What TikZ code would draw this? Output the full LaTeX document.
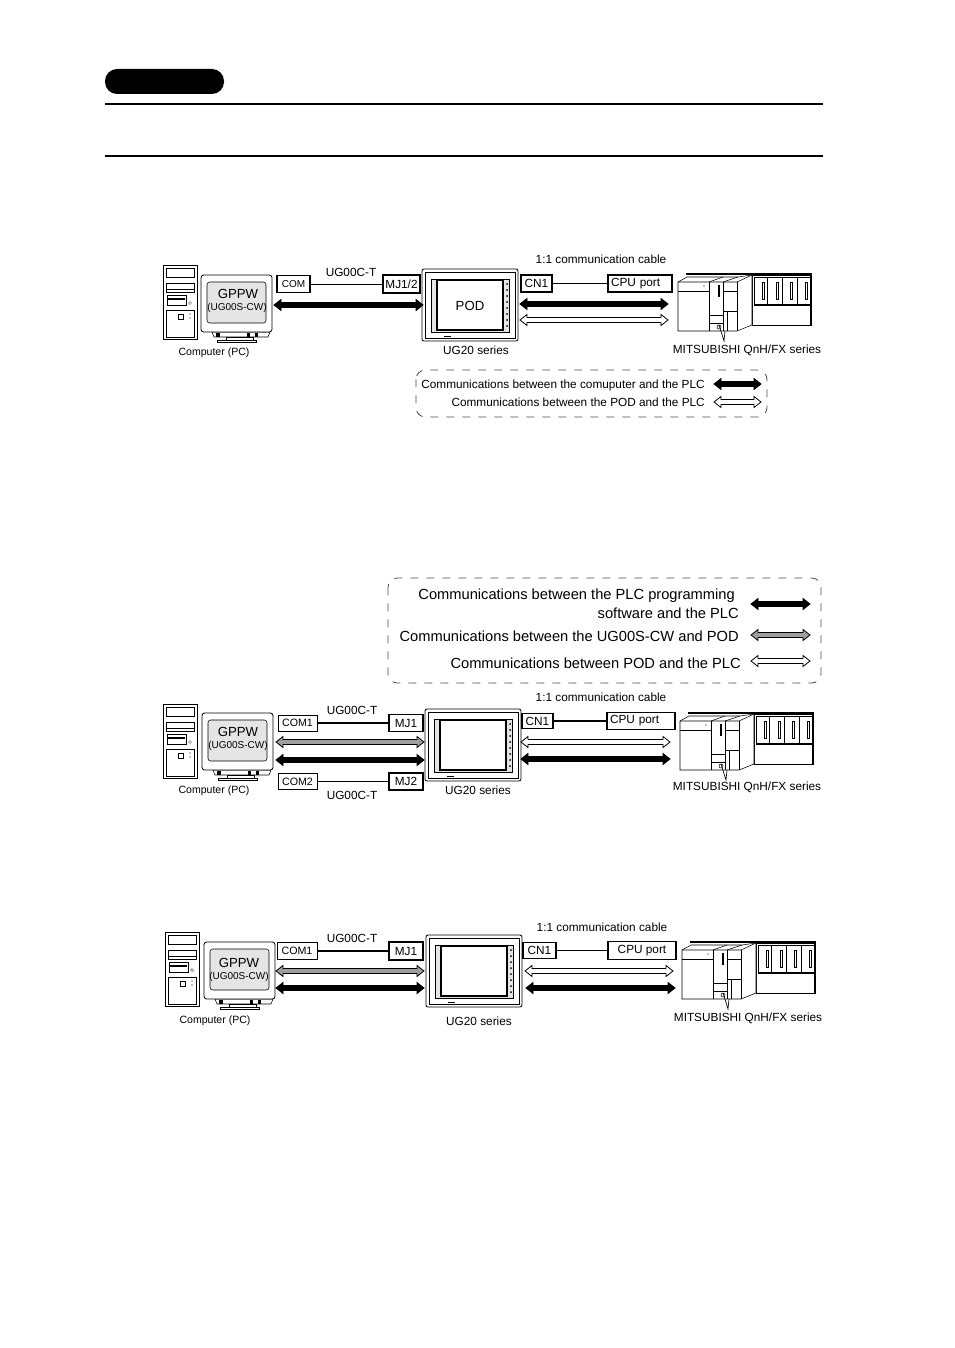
\documentclass[tikz,border=0pt]{standalone}
\usepackage{fontspec}
\setmainfont{Liberation Sans}
\usetikzlibrary{calc}

\newcommand{\commarrow}[3]{\draw[commline, fill=#1] (#2) -- ++(7,-5.5) -- ++(0,3) -- ($(#3)+(-7,-2.5)$) -- ++(0,-3) -- (#3) -- ++(-7,5.5) -- ++(0,-3) -- ($(#2)+(7,2.5)$) -- ++(0,3) -- cycle;}

\definecolor{screengray}{gray}{0.9}
\definecolor{arrowgray}{gray}{0.62}
\definecolor{dashgray}{gray}{0.3}

\def\px{0.75pt}

\tikzset{
   lab/.style={font=\fontsize{8.85}{10}\selectfont, inner sep=0pt},
   pclab/.style={font=\fontsize{7.9}{9}\selectfont, inner sep=0pt},
   swlab/.style={font=\fontsize{7.5}{9}\selectfont, inner sep=0pt},
   gppwlab/.style={font=\fontsize{9.9}{12}\selectfont, inner sep=0pt},
   biglab/.style={font=\fontsize{11}{13}\selectfont, inner sep=0pt, anchor=east},
   midlab/.style={font=\fontsize{8.85}{10}\selectfont, inner sep=0pt, anchor=east},
   port/.style={draw, line width=0.6pt, fill=white, font=\fontsize{8.85}{10}\selectfont, inner sep=0pt},
   portthick/.style={port, line width=1.2pt},
   cable/.style={line width=0.9pt},
   commline/.style={line width=0.6pt, line join=miter},
   legendbox/.style={draw=dashgray, line width=0.6pt, rounded corners=7pt, dash pattern=on 6pt off 6pt},
   pics/pctower/.style={code={
      \draw[line width=0.7pt, fill=white] (0,0) rectangle (34,74);
      \draw[line width=0.25pt] (3,3) rectangle (31,12);
      \draw[line width=0.25pt] (3,18) -- (31,18);
      \draw[line width=0.5pt] (3,18) rectangle (31,27);
      \draw[line width=0.25pt] (3,24) -- (31,24);
      \draw[line width=0.4pt] (4,30) rectangle (23,40);
      \fill (5,33) rectangle (22,34.5);
      \draw[line width=0.25pt] (27,38) circle (1.5);
      \draw[line width=0.25pt] (3,45) -- (31,45);
      \draw[line width=0.25pt] (3,45) -- (3,72) -- (31,72) -- (31,45);
      \draw[line width=0.4pt] (15,49) rectangle (20,54);
      \fill (27,49) circle (0.7);
      \fill (27,53) circle (0.7);
   }},
   pics/monitor/.style={code={
      \draw[line width=0.4pt, fill=white] (11,57) -- (13,62) -- (67,62) -- (69,57) -- cycle;
      \fill (15,58) rectangle (19,62);
      \fill (46,58) rectangle (49,62);
      \fill (54,58) rectangle (57,62);
      \draw[line width=0.4pt, fill=white] (25,62) rectangle (52,65);
      \draw[line width=0.4pt, fill=white] (16,65) rectangle (55,67);
      \draw[line width=0.6pt, fill=white, rounded corners=2pt] (0,0) rectangle (71,57);
      \draw[line width=0.4pt, fill=screengray, rounded corners=2pt] (6,7) rectangle (65,48);
   }},
   pics/hmipanel/.style={code={
      \draw[line width=0.6pt, fill=white, rounded corners=1.5pt] (0,0) rectangle (96,72);
      \draw[line width=0.5pt] (3,3) rectangle (93,69);
      \draw[line width=0.3pt, fill=screengray] (9,10) rectangle (87,63);
      \draw[line width=0.8pt, fill=white] (15,11) rectangle (81,61);
      \fill (85,15) circle (1);
      \fill (85,21) circle (1);
      \fill (85,27) circle (1);
      \fill (85,33) circle (1);
      \fill (85,39) circle (1);
      \fill (85,45) circle (1);
      \fill (85,51) circle (1);
      \fill (85,57) circle (1);
      \draw[line width=0.4pt] (22,67) -- (29,67);
   }},
   pics/plcrack/.style={code={
      \draw[line width=0.5pt, fill=white] (74,1) rectangle (133,51);
      \draw[line width=1pt] (8,0) -- (134,0);
      \draw[line width=0.8pt] (133,0) -- (133,51);
      \draw[line width=0.5pt] (76,3) rectangle (133,31);
      \draw[line width=1.2pt] (76,31) -- (133,31);
      \draw[line width=0.7pt] (89,3) -- (89,31);
      \draw[line width=0.7pt] (104,3) -- (104,31);
      \draw[line width=0.7pt] (119,3) -- (119,31);
      \draw[line width=0.4pt] (84,8) rectangle (86,25);
      \draw[line width=0.4pt] (98,8) rectangle (100,25);
      \draw[line width=0.4pt] (112,8) rectangle (114,25);
      \draw[line width=0.4pt] (127,8) rectangle (129,25);
      \draw[line width=0.4pt, fill=white] (0,8) -- (9,3) -- (45,3) -- (60,3) -- (74,1) -- (74,51) -- (59,57) -- (0,57) -- cycle;
      \draw[line width=0.4pt] (0,8) -- (59,8) -- (74,1);
      \draw[line width=0.4pt] (31,8) -- (45,3);
      \draw[line width=0.4pt] (45,8) -- (60,3);
      \draw[line width=0.6pt] (31,8) -- (31,57);
      \draw[line width=0.4pt] (0,17) -- (31,17);
      \fill (26,12) circle (0.6);
      \fill (40,11) rectangle (42,23);
      \draw[line width=0.4pt] (31,41) -- (45,41);
      \draw[line width=0.4pt] (31,49) -- (45,49);
      \draw[line width=0.4pt] (41,53) circle (2);
      \draw[line width=0.5pt] (45,8) -- (45,57);
      \draw[line width=0.4pt] (45,17) -- (59,17);
      \draw[line width=0.4pt] (45,37) -- (59,37);
      \draw[line width=0.6pt] (49,37) -- (49,57);
      \draw[line width=0.5pt] (59,8) -- (59,57);
      \draw[line width=0.5pt] (41,51) -- (46,67) -- (47,57);
   }},
}

\begin{document}
\begin{tikzpicture}[x=0.75pt, y=-0.75pt]
   \useasboundingbox (0,0) rectangle (954,1348);

   \fill[rounded corners=9pt] (105,69) rectangle (224,94);
   \draw[line width=1.5pt] (105,104) -- (823,104);
   \draw[line width=1.5pt] (105,156) -- (823,156);

   % first connection
   \pic (pcA) at (163,265) {pctower};
   \pic (monA) at (201,275) {monitor};
   \pic (hmiA) at (422,269) {hmipanel};
   \pic (plcA) at (678,274) {plcrack};
   \node[gppwlab] (gppwA) at (238,294) {GPPW};
   \node[swlab] (swA) at (237,308) {(UG00S-CW)};
   \node[gppwlab] (podA) at (470,306) {POD};
   \node[pclab] (pcnameA) at (214,353) {Computer (PC)};
   \node[lab] (hminameA) at (476,350) {UG20 series};
   \node[lab] (plcnameA) at (747,350) {MITSUBISHI QnH/FX series};
   \node[portthick, minimum width=33*\px, minimum height=17*\px, font=\fontsize{7.5}{9}\selectfont] (comA) at (293.5,284) {COM};
   \node[portthick, minimum width=37*\px, minimum height=18*\px] (mjA) at (401.5,284) {MJ1/2};
   \node[portthick, minimum width=31*\px, minimum height=17*\px] (cnA) at (536.5,283.5) {CN1};
   \node[portthick, minimum width=64*\px, minimum height=17*\px, text width=58*\px, align=left] (cpuA) at (640,283.5) {CPU port};
   \node[lab] (cableA) at (351,272) {UG00C-T};
   \node[lab] (oneA) at (601,259) {1:1 communication cable};
   \draw[line width=0.5pt] (comA) -- (mjA);
   \draw[cable] (cnA) -- (cpuA);
   \coordinate (blackAl) at (274,305);
   \coordinate (blackAr) at (423,305);
   \coordinate (blackBl) at (520,304);
   \coordinate (blackBr) at (668,304);
   \coordinate (whiteAl) at (520,320);
   \coordinate (whiteAr) at (668,320);
   \commarrow{black}{blackAl}{blackAr}
   \commarrow{black}{blackBl}{blackBr}
   \commarrow{white}{whiteAl}{whiteAr}

   \draw[legendbox] (416,370) rectangle (767,417);
   \node[midlab] (legA) at (705,385) {Communications between the comuputer and the PLC};
   \node[midlab] (legB) at (705,402) {Communications between the POD and the PLC};
   \coordinate (legAl) at (714,384);
   \coordinate (legAr) at (761,384);
   \coordinate (legBl) at (714,402);
   \coordinate (legBr) at (761,402);
   \commarrow{black}{legAl}{legAr}
   \commarrow{white}{legBl}{legBr}

   % legend of the second connection
   \draw[legendbox] (388,578) rectangle (821,683);
   \node[biglab] (legC) at (735,596) {Communications between the PLC programming};
   \node[biglab] (legD) at (739,613) {software and the PLC};
   \node[biglab] (legE) at (739,636) {Communications between the UG00S-CW and POD};
   \node[biglab] (legF) at (741,663) {Communications between POD and the PLC};
   \coordinate (legCl) at (751,604);
   \coordinate (legCr) at (810,604);
   \coordinate (legEl) at (751,635);
   \coordinate (legEr) at (810,635);
   \coordinate (legFl) at (751,661);
   \coordinate (legFr) at (810,661);
   \commarrow{black}{legCl}{legCr}
   \commarrow{arrowgray}{legEl}{legEr}
   \commarrow{white}{legFl}{legFr}

   % second connection
   \pic (pcB) at (163,704) {pctower};
   \pic (monB) at (202,713) {monitor};
   \pic (hmiB) at (425,709) {hmipanel};
   \pic (plcB) at (680,713) {plcrack};
   \node[gppwlab] (gppwB) at (238,732) {GPPW};
   \node[swlab] (swB) at (238,746) {(UG00S-CW)};
   \node[pclab] (pcnameB) at (214,791) {Computer (PC)};
   \node[lab] (hminameB) at (478,790) {UG20 series};
   \node[lab] (plcnameB) at (747,787) {MITSUBISHI QnH/FX series};
   \node[port, minimum width=39*\px, minimum height=16*\px, font=\fontsize{8}{10}\selectfont] (comB) at (297.5,723) {COM1};
   \node[portthick, minimum width=34*\px, minimum height=17*\px] (mjB) at (406,723) {MJ1};
   \node[port, minimum width=39*\px, minimum height=16*\px, font=\fontsize{8}{10}\selectfont] (comC) at (297.5,781.5) {COM2};
   \node[portthick, minimum width=34*\px, minimum height=17*\px] (mjC) at (406,781.5) {MJ2};
   \node[portthick, minimum width=31*\px, minimum height=15*\px] (cnB) at (537.5,721) {CN1};
   \node[portthick, minimum width=68*\px, minimum height=17*\px, text width=62*\px, align=left] (cpuB) at (641,721) {CPU port};
   \node[lab] (cableB) at (352,710) {UG00C-T};
   \node[lab] (cableC) at (352,795) {UG00C-T};
   \node[lab] (oneB) at (601,697) {1:1 communication cable};
   \draw[cable] (comB) -- (mjB);
   \draw[cable] (comC) -- (mjC);
   \draw[cable] (cnB) -- (cpuB);
   \coordinate (grayBl) at (276,742);
   \coordinate (grayBr) at (424,742);
   \coordinate (blackCl) at (276,760);
   \coordinate (blackCr) at (424,760);
   \coordinate (whiteBl) at (521,742);
   \coordinate (whiteBr) at (670,742);
   \coordinate (blackDl) at (521,759);
   \coordinate (blackDr) at (670,759);
   \commarrow{arrowgray}{grayBl}{grayBr}
   \commarrow{black}{blackCl}{blackCr}
   \commarrow{white}{whiteBl}{whiteBr}
   \commarrow{black}{blackDl}{blackDr}

   % third connection
   \pic (pcD) at (165,932) {pctower};
   \pic (monD) at (204,942) {monitor};
   \pic (hmiD) at (426,935) {hmipanel};
   \pic (plcD) at (682,942) {plcrack};
   \node[gppwlab] (gppwD) at (239,963) {GPPW};
   \node[swlab] (swD) at (239,977) {(UG00S-CW)};
   \node[pclab] (pcnameD) at (215,1021) {Computer (PC)};
   \node[lab] (hminameD) at (479,1021) {UG20 series};
   \node[lab] (plcnameD) at (748,1018) {MITSUBISHI QnH/FX series};
   \node[port, minimum width=40*\px, minimum height=17*\px, font=\fontsize{8}{10}\selectfont] (comD) at (297,951) {COM1};
   \node[portthick, minimum width=34*\px, minimum height=18*\px] (mjD) at (406,951) {MJ1};
   \node[portthick, minimum width=33*\px, minimum height=16*\px] (cnD) at (539.5,950.5) {CN1};
   \node[portthick, minimum width=68*\px, minimum height=18*\px] (cpuD) at (642,950.5) {CPU port};
   \node[lab] (cableD) at (352,938) {UG00C-T};
   \node[lab] (oneD) at (602,927) {1:1 communication cable};
   \draw[cable] (comD) -- (mjD);
   \draw[cable] (cnD) -- (cpuD);
   \coordinate (grayDl) at (276,971);
   \coordinate (grayDr) at (424,971);
   \coordinate (blackEl) at (276,988);
   \coordinate (blackEr) at (424,988);
   \coordinate (whiteDl) at (525,971);
   \coordinate (whiteDr) at (673,971);
   \coordinate (blackFl) at (526,988);
   \coordinate (blackFr) at (675,988);
   \commarrow{arrowgray}{grayDl}{grayDr}
   \commarrow{black}{blackEl}{blackEr}
   \commarrow{white}{whiteDl}{whiteDr}
   \commarrow{black}{blackFl}{blackFr}
\end{tikzpicture}
\end{document}
